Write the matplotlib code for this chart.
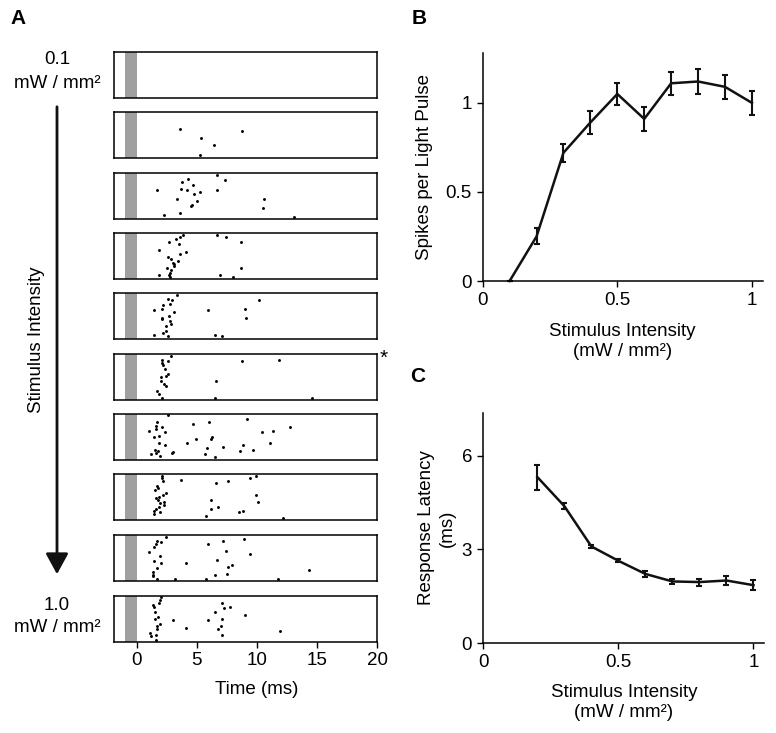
import matplotlib
matplotlib.use("Agg")
import matplotlib.pyplot as plt

plt.rcParams['font.family'] = ['Liberation Sans', 'DejaVu Sans']
plt.rcParams['font.size'] = 13.5

# Panel A: raster, one row per light intensity (0.1 ... 1.0 mW/mm2)
# spike time (ms) and trial position (fraction of sweep stack, 0 = top)
spike_times = [
    [],
    [3.56, 8.78, 5.33, 6.42, 5.22],
    [1.67, 2.25, 3.31, 3.61, 3.64, 3.78, 4.14, 4.25, 4.64, 4.72, 4.50, 4.56, 4.97, 5.25,
     6.64, 7.36, 6.67, 10.61, 10.47, 13.08],
    [3.83, 3.61, 3.28, 2.72, 3.50, 1.81, 4.06, 3.61, 2.56, 2.83, 3.47, 3.00, 3.08, 3.06,
     2.50, 2.86, 2.78, 1.81, 2.72, 2.75, 6.64, 7.44, 8.69, 8.67, 6.94, 7.97],
    [3.36, 2.61, 2.89, 2.75, 2.17, 2.08, 1.42, 3.08, 2.69, 2.08, 2.06, 2.78, 2.86, 2.44,
     2.47, 2.22, 1.42, 2.56, 10.17, 5.92, 9.00, 9.06, 6.53, 7.11],
    [2.81, 2.08, 2.58, 2.11, 2.17, 2.36, 2.56, 2.44, 2.03, 2.03, 2.28, 2.44, 1.69, 1.86,
     2.08, 8.72, 11.83, 6.56, 6.47, 14.61],
    [2.56, 1.72, 2.06, 1.61, 1.58, 1.03, 2.31, 1.42, 1.83, 1.86, 2.31, 1.50, 1.78, 1.56,
     1.14, 1.94, 3.00, 2.97, 4.69, 6.03, 9.19, 12.75, 11.33, 10.42, 6.28, 6.14, 4.92,
     4.14, 11.08, 8.86, 7.17, 5.83, 9.64, 8.56, 5.67, 6.47],
    [2.11, 2.06, 2.17, 1.72, 1.75, 1.50, 2.39, 2.17, 1.86, 1.58, 1.75, 2.25, 1.92, 2.25,
     1.86, 1.61, 1.47, 1.94, 1.47, 3.69, 6.56, 7.58, 9.39, 9.89, 9.89, 10.08, 6.14, 6.72,
     6.14, 8.86, 8.47, 5.72, 12.14],
    [2.42, 1.67, 2.03, 1.58, 1.42, 1.00, 1.94, 1.44, 2.03, 1.72, 1.36, 1.36, 1.36, 1.64,
     3.22, 4.06, 5.94, 7.17, 8.94, 7.39, 9.39, 6.64, 7.94, 7.61, 7.53, 6.53, 5.75, 11.72,
     14.33],
    [2.03, 1.94, 1.86, 1.36, 1.47, 1.53, 1.75, 1.50, 1.94, 1.67, 1.69, 1.11, 1.22, 1.56,
     1.61, 3.00, 4.08, 5.94, 6.50, 7.06, 7.22, 7.75, 8.97, 7.08, 6.97, 6.75, 7.11, 11.92],
]
spike_trials = [
    [],
    [0.38, 0.42, 0.56, 0.71, 0.94],
    [0.38, 0.92, 0.57, 0.88, 0.35, 0.19, 0.38, 0.12, 0.27, 0.46, 0.72, 0.70, 0.61, 0.42,
     0.05, 0.15, 0.38, 0.57, 0.76, 0.96],
    [0.04, 0.09, 0.12, 0.19, 0.24, 0.38, 0.42, 0.46, 0.53, 0.56, 0.60, 0.65, 0.68, 0.72,
     0.76, 0.80, 0.86, 0.91, 0.91, 0.96, 0.05, 0.09, 0.19, 0.76, 0.91, 0.95],
    [0.04, 0.12, 0.16, 0.23, 0.26, 0.34, 0.38, 0.42, 0.50, 0.54, 0.57, 0.61, 0.68, 0.72,
     0.83, 0.86, 0.91, 0.94, 0.16, 0.38, 0.34, 0.54, 0.91, 0.94],
    [0.05, 0.12, 0.15, 0.20, 0.24, 0.32, 0.43, 0.47, 0.51, 0.58, 0.66, 0.70, 0.80, 0.88,
     0.96, 0.15, 0.12, 0.58, 0.96, 0.96],
    [0.02, 0.18, 0.29, 0.25, 0.32, 0.37, 0.40, 0.51, 0.47, 0.63, 0.68, 0.78, 0.81, 0.85,
     0.88, 0.92, 0.83, 0.85, 0.22, 0.18, 0.10, 0.29, 0.37, 0.40, 0.51, 0.55, 0.55,
     0.63, 0.63, 0.68, 0.71, 0.74, 0.78, 0.81, 0.88, 0.93],
    [0.04, 0.08, 0.15, 0.27, 0.31, 0.34, 0.42, 0.46, 0.50, 0.53, 0.57, 0.61, 0.64, 0.68,
     0.72, 0.76, 0.80, 0.83, 0.88, 0.12, 0.19, 0.15, 0.08, 0.04, 0.46, 0.61, 0.57, 0.72,
     0.76, 0.80, 0.83, 0.91, 0.95],
    [0.04, 0.12, 0.15, 0.20, 0.27, 0.38, 0.46, 0.57, 0.61, 0.72, 0.80, 0.88, 0.90, 0.96,
     0.96, 0.61, 0.19, 0.12, 0.08, 0.35, 0.42, 0.54, 0.65, 0.69, 0.84, 0.88, 0.96, 0.96,
     0.76],
    [0.03, 0.08, 0.15, 0.20, 0.23, 0.35, 0.46, 0.50, 0.61, 0.65, 0.72, 0.80, 0.87, 0.84,
     0.96, 0.53, 0.69, 0.52, 0.35, 0.15, 0.27, 0.23, 0.41, 0.49, 0.65, 0.72, 0.84, 0.76],
]
starred_row = 5
time_ticks = [0, 5, 10, 15, 20]

# Panels B and C
intensity = [0.1, 0.2, 0.3, 0.4, 0.5, 0.6, 0.7, 0.8, 0.9, 1.0]
spikes = [0.0, 0.25, 0.72, 0.89, 1.05, 0.91, 1.11, 1.12, 1.09, 1.0]
spikes_err = [0.0, 0.045, 0.05, 0.066, 0.063, 0.066, 0.065, 0.072, 0.068, 0.068]

lat_intensity = [0.2, 0.3, 0.4, 0.5, 0.6, 0.7, 0.8, 0.9, 1.0]
latency = [5.31, 4.38, 3.09, 2.63, 2.21, 1.97, 1.95, 2.0, 1.85]
latency_err = [0.40, 0.10, 0.05, 0.05, 0.10, 0.08, 0.11, 0.15, 0.16]

W, H = 776, 733
fig = plt.figure(figsize=(W / 100, H / 100), dpi=100)


def px_axes(left, top, w, h):
    return fig.add_axes([left / W, 1 - (top + h) / H, w / W, h / H])


# ---- Panel A
row_tops = [52, 112, 173, 233, 293, 354, 414, 474, 535, 596]
for i, top in enumerate(row_tops):
    ax = px_axes(114, top, 263, 46)
    ax.axvspan(-0.95, 0, color='#a0a0a0', lw=0)
    ax.plot(spike_times[i], spike_trials[i], 'o', color='k', ms=2.1, mew=0)
    ax.set_xlim(-1.9, 20)
    ax.set_ylim(1, 0)
    ax.set_yticks([])
    for s in ax.spines.values():
        s.set_linewidth(1.1)
    if i == len(row_tops) - 1:
        ax.set_xticks(time_ticks)
        ax.tick_params(axis='x', direction='out', length=4, width=1, pad=3)
    else:
        ax.set_xticks([])
    if i == starred_row:
        ax.text(1.025, 0.9, '*', transform=ax.transAxes, ha='center', va='center',
                fontsize=15)

fig.text(257 / W, 1 - 689 / H, 'Time (ms)', ha='center', va='center')
fig.text(57 / W, 1 - 60 / H, '0.1', ha='center', va='center')
fig.text(57 / W, 1 - 83 / H, 'mW / mm²', ha='center', va='center')
fig.text(57 / W, 1 - 606 / H, '1.0', ha='center', va='center')
fig.text(57 / W, 1 - 628 / H, 'mW / mm²', ha='center', va='center')
fig.text(37 / W, 1 - 340 / H, 'Stimulus Intensity', rotation=90, ha='center', va='center')
fig.add_artist(matplotlib.patches.FancyArrowPatch(
    (57 / W, 1 - 104 / H), (57 / W, 1 - 577 / H), transform=fig.transFigure,
    arrowstyle='-|>,head_length=0.55,head_width=0.3', mutation_scale=23,
    lw=2, color='#111111'))

fig.text(18 / W, 1 - 18 / H, 'A', ha='center', va='center', fontsize=15, fontweight='bold')
fig.text(419 / W, 1 - 18 / H, 'B', ha='center', va='center', fontsize=15, fontweight='bold')
fig.text(418 / W, 1 - 376 / H, 'C', ha='center', va='center', fontsize=15, fontweight='bold')


def style_line_axes(ax):
    for side in ['top', 'right']:
        ax.spines[side].set_visible(False)
    for side in ['left', 'bottom']:
        ax.spines[side].set_linewidth(1.1)
    ax.tick_params(direction='out', length=4, width=1, pad=4)
    ax.set_xlim(0, 1.04)
    ax.set_xticks([0, 0.5, 1])
    ax.set_xticklabels(['0', '0.5', '1'])


# ---- Panel B
axb = px_axes(482.7, 53, 280, 228)
axb.errorbar(intensity, spikes, yerr=spikes_err, color='#111111', lw=1.8,
             elinewidth=1.5, capsize=2.5, capthick=1.5, clip_on=False)
style_line_axes(axb)
axb.set_ylim(0, 1.28)
axb.set_yticks([0, 0.5, 1])
axb.set_yticklabels(['0', '0.5', '1'])
axb.set_ylabel('Spikes per Light Pulse', labelpad=9)
axb.set_xlabel('Stimulus Intensity\n(mW / mm²)', labelpad=10, linespacing=1.25)

# ---- Panel C
axc = px_axes(483.3, 413, 281, 230)
axc.errorbar(lat_intensity, latency, yerr=latency_err, color='#111111', lw=1.8,
             elinewidth=1.5, capsize=2.5, capthick=1.5, clip_on=False)
style_line_axes(axc)
axc.set_ylim(0, 7.36)
axc.set_yticks([0, 3, 6])
axc.set_ylabel('Response Latency\n(ms)', labelpad=4, linespacing=1.3)
axc.set_xlabel('Stimulus Intensity\n(mW / mm²)', labelpad=9, linespacing=1.25)

fig.savefig('out.png', dpi=100)
